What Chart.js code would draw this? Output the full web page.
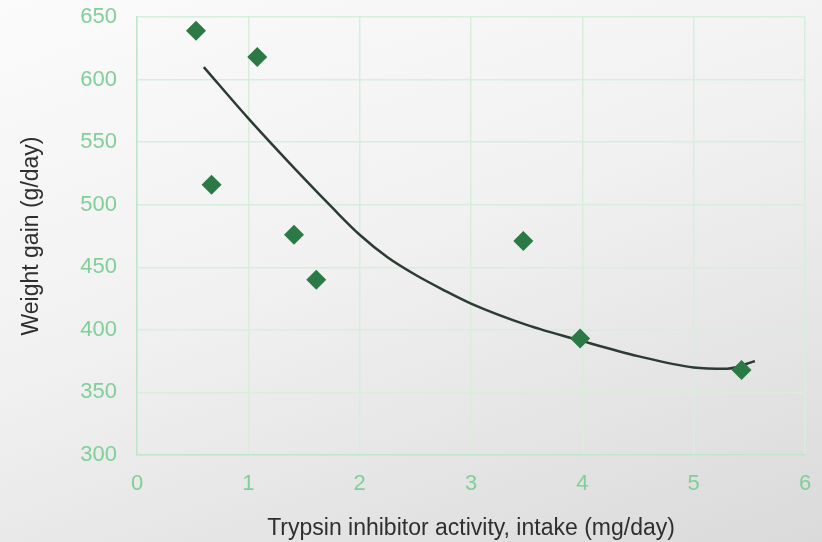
<!DOCTYPE html><html><head>
<title>Weight gain vs trypsin inhibitor</title>
<style>
  html, body { margin: 0; padding: 0; }
  body { width: 822px; height: 542px; overflow: hidden;
    background: linear-gradient(160deg, #fbfbfb 0%, #f1f1f1 45%, #dadada 100%); }
  #chart { display: block; }
</style>
</head>
<body>
<canvas id="chart" width="822" height="542"></canvas>
<script src="https://cdn.jsdelivr.net/npm/chart.js"></script>
<script>
// measured points
const intake = [0.53, 1.08, 0.67, 1.41, 1.61, 3.47, 3.98, 5.43];
const gain   = [639, 618, 516, 476, 440, 471, 393, 368];
// trend curve
const trendX = [0.6, 1.0, 1.5, 1.75, 2.0, 2.25, 2.5, 2.75, 3.0, 3.5, 4.0, 4.5, 5.0, 5.3, 5.55];
const trendY = [610, 569, 521, 498, 476, 458, 444, 432, 421, 404, 391, 379, 370, 369, 375];

const green = '#7fcf97';
const font = "'Liberation Sans', Arial, sans-serif";

const ctx = document.getElementById('chart').getContext('2d');
new Chart(ctx, {
  type: 'scatter',
  data: {
    datasets: [{
      data: intake.map((x, i) => ({x: x, y: gain[i]})),
      pointStyle: 'rectRot',
      pointRadius: 10,
      pointHoverRadius: 10,
      backgroundColor: '#2b7a45',
      borderColor: '#2b7a45',
      borderWidth: 0
    }, {
      data: trendX.map((x, i) => ({x: x, y: trendY[i]})),
      showLine: true,
      pointRadius: 0,
      borderColor: '#2c3b33',
      borderWidth: 2.5,
      cubicInterpolationMode: 'monotone'
    }]
  },
  options: {
    responsive: false,
    animation: false,
    layout: { padding: { top: 17, right: 17, left: 0, bottom: 0 } },
    plugins: { legend: { display: false }, tooltip: { enabled: false } },
    scales: {
      x: {
        min: 0, max: 6,
        ticks: { stepSize: 1, color: green, padding: 16, font: { family: font, size: 22 } },
        grid: { color: '#d8eedd', lineWidth: 1.5, drawTicks: false },
        border: { color: '#bfe6ca', width: 1.5 },
        title: { display: true, text: 'Trypsin inhibitor activity, intake (mg/day)', color: '#2f2f2f',
                 font: { family: font, size: 23 }, padding: { top: 8, bottom: 0 } },
        afterFit: s => { s.height = 87; s.paddingLeft = 0; s.paddingRight = 0; }
      },
      y: {
        min: 300, max: 650,
        ticks: { stepSize: 50, color: green, padding: 20, font: { family: font, size: 22 } },
        grid: { color: '#d8eedd', lineWidth: 1.5, drawTicks: false },
        border: { color: '#bfe6ca', width: 1.5 },
        title: { display: true, text: 'Weight gain (g/day)', color: '#2f2f2f',
                 font: { family: font, size: 23 }, padding: { top: 18, bottom: 0 } },
        afterFit: s => { s.width = 137; s.paddingTop = 0; s.paddingBottom = 0; }
      }
    }
  }
});
</script>
</body></html>
